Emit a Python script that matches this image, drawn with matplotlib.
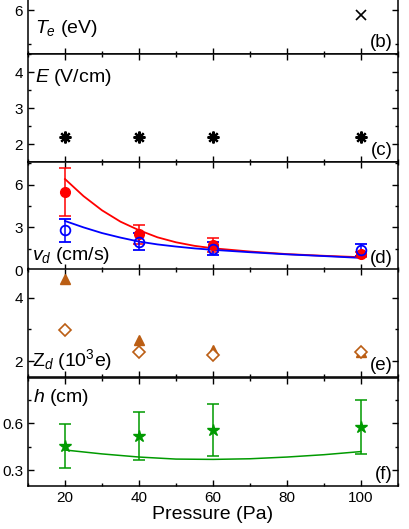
import matplotlib
matplotlib.use("Agg")
import matplotlib.pyplot as plt
from matplotlib.ticker import MultipleLocator

plt.rcParams["font.family"] = ["Liberation Sans", "DejaVu Sans"]
plt.rcParams["mathtext.fontset"] = "custom"
plt.rcParams["mathtext.rm"] = "Liberation Sans"
plt.rcParams["mathtext.it"] = "Liberation Sans:italic"

# pressure values (Pa)
pressure = [20, 40, 60, 100]

# (b) electron temperature, only the 100 Pa point is inside the view
te_p = [100]
te = [5.85]

# (c) electric field
e_field = [2.2, 2.2, 2.2, 2.2]

# (d) drift velocity, measured and model
vd_red = [5.5, 2.5, 1.75, 1.1]
vd_red_err = [1.7, 0.7, 0.5, 0.2]
vd_blue = [2.8, 2.0, 1.5, 1.4]
vd_blue_err = [0.8, 0.6, 0.45, 0.4]
curve_p = [20, 25, 30, 35, 40, 45, 50, 55, 60, 70, 80, 90, 100]
vd_red_curve = [6.4, 5.2, 4.2, 3.4, 2.8, 2.3, 1.95, 1.7, 1.53, 1.3, 1.12, 1.0, 0.9]
vd_blue_curve = [3.45, 3.0, 2.6, 2.28, 2.0, 1.8, 1.65, 1.52, 1.42, 1.25, 1.1, 0.98, 0.85]

# (e) dust charge
zd_tri = [4.6, 2.66, 2.34, 2.3]
zd_dia = [2.98, 2.29, 2.19, 2.3]

# (f) height
h = [0.455, 0.52, 0.557, 0.578]
h_err = [0.14, 0.155, 0.168, 0.173]
h_curve_p = [20, 30, 40, 50, 60, 70, 80, 90, 100]
h_curve = [0.43, 0.405, 0.385, 0.372, 0.37, 0.374, 0.385, 0.40, 0.42]

red = "#ff0000"
blue = "#0000ff"
brown = "#bb5e14"
green = "#009a00"

fig = plt.figure(figsize=(4.09, 5.29), dpi=100)
left, width = 28 / 409, 370 / 409
ph = 108 / 529
bottoms = [475 / 529, 367 / 529, 259 / 529, 152 / 529, 43 / 529]
axes = [fig.add_axes([left, b, width, ph]) for b in bottoms]
ax_b, ax_c, ax_d, ax_e, ax_f = axes

for ax in axes:
    ax.set_xlim(10, 110)
    ax.xaxis.set_major_locator(MultipleLocator(20))
    ax.xaxis.set_minor_locator(MultipleLocator(10))
    ax.tick_params(which="both", direction="in", top=True, right=True,
                   labelsize=11, width=1.0)
    ax.tick_params(which="major", length=4.5)
    ax.tick_params(which="minor", length=2.5)
    for s in ax.spines.values():
        s.set_linewidth(1.1)
    if ax is not ax_f:
        ax.tick_params(labelbottom=False)

# (b)
ax_b.plot(te_p, te, "x", color="black", ms=7, mew=1.2)
ax_b.set_ylim(4.7, 7.9)
ax_b.yaxis.set_major_locator(MultipleLocator(2))
ax_b.yaxis.set_minor_locator(MultipleLocator(1))

# (c)
ax_c.plot(pressure, e_field, ls="none", marker=(8, 2, 0), color="black", ms=8.5, mew=1.6)
ax_c.set_ylim(1.5, 4.5)
ax_c.yaxis.set_major_locator(MultipleLocator(1))
ax_c.yaxis.set_minor_locator(MultipleLocator(0.5))

# (d)
ax_d.plot(curve_p, vd_red_curve, color=red, lw=1.3)
ax_d.plot(curve_p, vd_blue_curve, color=blue, lw=1.3)
ax_d.errorbar(pressure, vd_red, yerr=vd_red_err, fmt="o", color=red, ms=7,
              capsize=4, elinewidth=1.1, capthick=1.1)
ax_d.errorbar(pressure, vd_blue, yerr=vd_blue_err, fmt="o", color=blue, mfc="none",
              ms=7, mew=1.3, capsize=4, elinewidth=1.1, capthick=1.1)
ax_d.set_ylim(0, 7.6)
ax_d.yaxis.set_major_locator(MultipleLocator(3))
ax_d.yaxis.set_minor_locator(MultipleLocator(1.5))

# (e)
ax_e.plot(pressure, zd_tri, "^", color=brown, ms=7.5)
ax_e.plot(pressure, zd_dia, "D", color=brown, mfc="white", ms=6.5, mew=1.2)
ax_e.set_ylim(1.5, 4.9)
ax_e.yaxis.set_major_locator(MultipleLocator(2))
ax_e.yaxis.set_minor_locator(MultipleLocator(1))

# (f)
ax_f.plot(h_curve_p, h_curve, color=green, lw=1.1)
ax_f.errorbar(pressure, h, yerr=h_err, fmt="*", color=green, ms=9,
              capsize=4, elinewidth=1.1, capthick=1.1)
ax_f.set_ylim(0.2, 0.89)
ax_f.yaxis.set_major_locator(MultipleLocator(0.3))
ax_f.yaxis.set_minor_locator(MultipleLocator(0.15))
ax_f.set_xlabel("Pressure (Pa)", fontsize=14, labelpad=1)

labels = [r"$T_e$ (eV)", r"$E$ (V/cm)", r"$v_d$ (cm/s)", r"Z$_d$ (10$^3$e)", r"$h$ (cm)"]
label_pos = [(0.02, 0.24), (0.02, 0.78), (0.01, 0.13), (0.01, 0.16), (0.014, 0.82)]
tags = ["(b)", "(c)", "(d)", "(e)", "(f)"]
for ax, lab, pos, tag in zip(axes, labels, label_pos, tags):
    ax.text(pos[0], pos[1], lab, transform=ax.transAxes, fontsize=14,
            ha="left", va="center")
    ax.text(0.985, 0.03, tag, transform=ax.transAxes, fontsize=13.5,
            ha="right", va="bottom")

fig.savefig("out.png", dpi=100)
